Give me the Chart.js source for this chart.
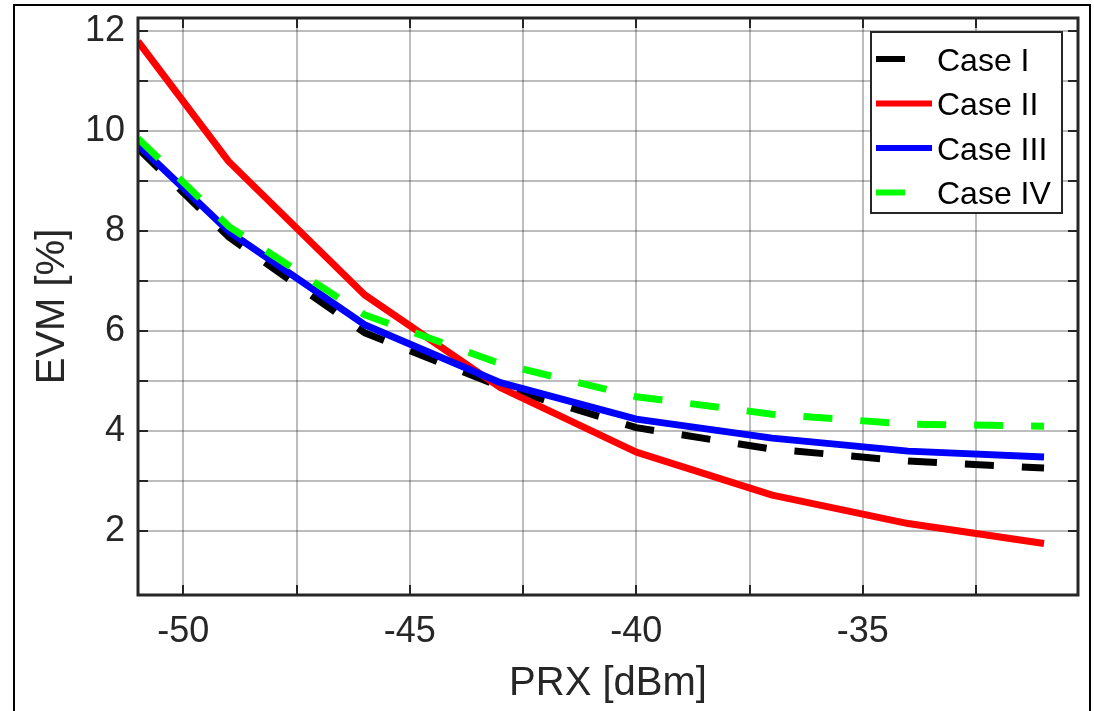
<!DOCTYPE html>
<html>
<head>
<meta charset="utf-8">
<script src="https://cdn.jsdelivr.net/npm/chart.js@4"></script>
<style>
  html, body { margin: 0; padding: 0; background: #fff; }
  canvas { display: block; }
</style>
</head>
<body>
<canvas id="evmChart" width="1094" height="711"></canvas>
<script>
// data
const prx = [-51, -49, -46, -43, -40, -37, -34, -31];
const caseI   = [9.66, 7.89, 5.97, 4.89, 4.07, 3.64, 3.40, 3.26];
const caseII  = [11.80, 9.40, 6.73, 4.87, 3.58, 2.72, 2.15, 1.75];
const caseIII = [9.73, 8.00, 6.13, 4.97, 4.24, 3.86, 3.60, 3.48];
const caseIV  = [9.86, 8.10, 6.33, 5.35, 4.69, 4.34, 4.14, 4.10];

const xTicks = [-50, -47.5, -45, -42.5, -40, -37.5, -35, -32.5];
const yTicks = [2, 3, 4, 5, 6, 7, 8, 9, 10, 11, 12];

const FONT = "'Liberation Sans', Arial, sans-serif";
const INK = '#262626';

const pts = (ys) => prx.map((x, i) => ({ x: x, y: ys[i] }));

// box, inward ticks, legend and the figure frame (MATLAB look)
const matlabAxes = {
    id: 'matlabAxes',
    afterDatasetsDraw(chart) {
        const ctx = chart.ctx;
        const a = chart.chartArea;
        const xs = chart.scales.x, ys = chart.scales.y;
        ctx.save();
        ctx.strokeStyle = INK;
        ctx.lineWidth = 2;
        ctx.beginPath();
        xTicks.forEach(v => {
            const px = Math.round(xs.getPixelForValue(v));
            ctx.moveTo(px, a.bottom); ctx.lineTo(px, a.bottom - 10);
            ctx.moveTo(px, a.top); ctx.lineTo(px, a.top + 10);
        });
        yTicks.forEach(v => {
            const py = Math.round(ys.getPixelForValue(v));
            ctx.moveTo(a.left, py); ctx.lineTo(a.left + 10, py);
            ctx.moveTo(a.right, py); ctx.lineTo(a.right - 10, py);
        });
        ctx.stroke();
        ctx.lineWidth = 3;
        ctx.strokeRect(a.left, a.top, a.right - a.left, a.bottom - a.top);

        // legend
        const lx = a.right - 16 - 191, ly = a.top + 14;
        ctx.fillStyle = '#fff';
        ctx.fillRect(lx, ly, 191, 181);
        ctx.lineWidth = 2;
        ctx.strokeRect(lx, ly, 191, 181);
        ctx.font = '32px ' + FONT;
        ctx.textBaseline = 'middle';
        ctx.textAlign = 'left';
        chart.data.datasets.forEach((ds, i) => {
            const ry = ly + 27 + i * 44.5;
            ctx.strokeStyle = ds.borderColor;
            ctx.lineWidth = 6;
            ctx.lineCap = 'butt';
            ctx.setLineDash(ds.borderDash || []);
            ctx.beginPath();
            ctx.moveTo(lx + 5, ry);
            ctx.lineTo(lx + 61, ry);
            ctx.stroke();
            ctx.setLineDash([]);
            ctx.fillStyle = '#000';
            ctx.fillText(ds.label, lx + 66, ry + 3);
        });

        // outer frame
        ctx.strokeStyle = '#000';
        ctx.lineWidth = 2;
        ctx.strokeRect(14, 5, 1076, 720);
        ctx.restore();
    }
};

new Chart(document.getElementById('evmChart'), {
    type: 'line',
    data: {
        datasets: [
            { label: 'Case I', data: pts(caseI), borderColor: '#000000', borderWidth: 7, borderDash: [29, 28], order: 4 },
            { label: 'Case II', data: pts(caseII), borderColor: '#ff0000', borderWidth: 7, order: 3 },
            { label: 'Case III', data: pts(caseIII), borderColor: '#0000ff', borderWidth: 7, order: 2 },
            { label: 'Case IV', data: pts(caseIV), borderColor: '#00ff00', borderWidth: 7, borderDash: [29, 28], order: 1 }
        ]
    },
    options: {
        responsive: false,
        animation: false,
        devicePixelRatio: 1,
        layout: { padding: { top: 18, right: 16, left: 0, bottom: 0 } },
        elements: {
            line: { borderWidth: 7, tension: 0, fill: false, borderCapStyle: 'butt', borderJoinStyle: 'round' },
            point: { radius: 0, hoverRadius: 0 }
        },
        plugins: { legend: { display: false }, tooltip: { enabled: false } },
        scales: {
            x: {
                type: 'linear',
                min: -51,
                max: -30.25,
                afterBuildTicks: (scale) => { scale.ticks = xTicks.map(v => ({ value: v })); },
                afterFit: (scale) => {
                    scale.height = 116;
                    scale.paddingLeft = 0; scale.paddingRight = 0;
                },
                grid: { color: 'rgba(0,0,0,0.26)', lineWidth: 2, drawTicks: false },
                border: { display: false },
                ticks: {
                    padding: 19,
                    color: INK,
                    font: { family: FONT, size: 36, lineHeight: 1 },
                    maxRotation: 0,
                    callback: (v) => (v % 5 === 0 ? String(v) : '')
                },
                title: {
                    display: true,
                    text: 'PRX [dBm]',
                    color: INK,
                    font: { family: FONT, size: 40, lineHeight: 1 },
                    padding: { top: 0, bottom: 7 }
                }
            },
            y: {
                type: 'linear',
                min: 0.72,
                max: 12.27,
                afterBuildTicks: (scale) => { scale.ticks = yTicks.map(v => ({ value: v })); },
                afterFit: (scale) => {
                    scale.width = 138;
                    scale.paddingTop = 0; scale.paddingBottom = 0;
                },
                grid: { color: 'rgba(0,0,0,0.26)', lineWidth: 2, drawTicks: false },
                border: { display: false },
                ticks: {
                    padding: 13,
                    color: INK,
                    font: { family: FONT, size: 36, lineHeight: 1 },
                    callback: (v) => (v % 2 === 0 ? String(v) : '')
                },
                title: {
                    display: true,
                    text: 'EVM [%]',
                    color: INK,
                    font: { family: FONT, size: 40, lineHeight: 1 },
                    padding: { top: 33, bottom: 0 }
                }
            }
        }
    },
    plugins: [matlabAxes]
});
</script>
</body>
</html>
